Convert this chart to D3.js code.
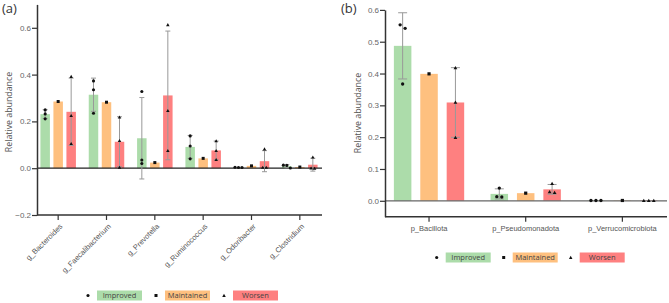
<!DOCTYPE html>
<html>
<head>
<meta charset="utf-8">
<script src="https://cdn.jsdelivr.net/npm/d3@7"></script>
<style>
body { margin: 0; background: #fff; }
svg { display: block; font-family: "Open Sans", sans-serif; }
</style>
</head>
<body>
<svg id="chart" width="669" height="303"></svg>
<script>
// groups shared by both panels
var groups = ["Improved", "Maintained", "Worsen"];
var groupColors = ["#acdcaa", "#fec07f", "#fe8080"];
var groupShapes = ["circle", "square", "triangle"];

// panel (a) genus level
var genusCats = ["g_Bacteroides", "g_Faecalibacterium", "g_Prevotella", "g_Ruminococcus", "g_Odoribacter", "g_Clostridium"];
var genusMean = [
  [0.231, 0.314, 0.128, 0.091, 0.0033, 0.0087],
  [0.285, 0.282, 0.024, 0.042, 0.010, 0.005],
  [0.241, 0.113, 0.311, 0.076, 0.030, 0.015]
];
var genusSD = [
  [0.019, 0.071, 0.174, 0.049, 0.0006, 0.0067],
  [0, 0, 0, 0, 0, 0],
  [0.144, 0.107, 0.275, 0.040, 0.045, 0.0275]
];
var genusPoints = [
  [[0.249, 0.232, 0.211], [0.373, 0.335, 0.235], [0.328, 0.035, 0.020], [0.138, 0.095, 0.040], [0.004, 0.003, 0.003], [0.013, 0.001, 0.012]],
  [[0.285], [0.282], [0.024], [0.042], [0.010], [0.005]],
  [[0.392, 0.225, 0.105], [0.218, 0.118, 0.004], [0.613, 0.246, 0.075], [0.117, 0.075, 0.037], [0.082, 0.004, 0.004], [0.047, -0.001, 0.000]]
];
var genusTicks = [-0.2, 0, 0.2, 0.4, 0.6];

// panel (b) phylum level
var phylumCats = ["p_Bacillota", "p_Pseudomonadota", "p_Verrucomicrobiota"];
var phylumMean = [
  [0.487, 0.0217, 0.001],
  [0.399, 0.024, 0.001],
  [0.309, 0.036, 0.001]
];
var phylumSD = [
  [0.104, 0.0159, 0],
  [0, 0, 0],
  [0.1095, 0.0153, 0]
];
var phylumPoints = [
  [[0.553, 0.542, 0.367], [0.040, 0.012, 0.013], [0.001, 0.001, 0.001]],
  [[0.399], [0.024], [0.001]],
  [[0.418, 0.310, 0.199], [0.054, 0.026, 0.028], [0.001, 0.001, 0.001]]
];
var phylumTicks = [0, 0.1, 0.2, 0.3, 0.4, 0.5, 0.6];

var svg = d3.select('#chart');

function marker(g, shape, cx, cy, s){
  if (shape === 'circle') {
    g.append('circle').attr('cx', cx).attr('cy', cy).attr('r', s * 0.52).attr('fill', '#111');
  } else if (shape === 'square') {
    g.append('rect').attr('x', cx - s / 2).attr('y', cy - s / 2).attr('width', s).attr('height', s).attr('fill', '#111');
  } else {
    g.append('path').attr('transform', 'translate(' + cx + ',' + (cy + 0.4) + ')')
      .attr('d', d3.symbol().type(d3.symbolTriangle).size(s * s * 0.6)()).attr('fill', '#111');
  }
}

function drawPanel(o){
  var g = svg.append('g');
  var x0 = d3.scaleBand().domain(o.cats).range(o.xr);
  var x1 = d3.scaleBand().domain(groups).range([-o.gw / 2, o.gw / 2]).paddingInner(o.pad);
  var y = d3.scaleLinear().domain(o.yd).range(o.yr);
  var cx = function(ci, gi){ return x0(o.cats[ci]) + x0.bandwidth() / 2 + x1(groups[gi]) + x1.bandwidth() / 2; };

  // bars
  o.means.forEach(function(arr, gi){
    arr.forEach(function(m, ci){
      g.append('rect')
        .attr('x', cx(ci, gi) - x1.bandwidth() / 2)
        .attr('y', Math.min(y(m), y(0)))
        .attr('width', x1.bandwidth())
        .attr('height', Math.abs(y(0) - y(m)))
        .attr('fill', groupColors[gi]);
    });
  });

  // zero line
  g.append('line').attr('x1', o.axisX).attr('x2', o.axisEnd).attr('y1', y(0)).attr('y2', y(0))
    .attr('stroke', o.zeroColor).attr('stroke-width', 1.2);

  // error bars (mean +/- sd)
  o.sds.forEach(function(arr, gi){
    arr.forEach(function(sd, ci){
      if (!sd) return;
      var m = o.means[gi][ci], x = cx(ci, gi);
      g.append('line').attr('x1', x).attr('x2', x).attr('y1', y(m - sd)).attr('y2', y(m + sd))
        .attr('stroke', '#999').attr('stroke-width', 1);
      [m - sd, m + sd].forEach(function(v){
        g.append('line').attr('x1', x - o.cap / 2).attr('x2', x + o.cap / 2).attr('y1', y(v)).attr('y2', y(v))
          .attr('stroke', '#999').attr('stroke-width', 1);
      });
    });
  });

  // individual points, dodged sideways when they overlap
  o.points.forEach(function(arr, gi){
    arr.forEach(function(pts, ci){
      var ys = pts.map(function(v){ return y(v); }).sort(function(a, b){ return a - b; });
      var clusters = [];
      ys.forEach(function(py){
        var last = clusters[clusters.length - 1];
        if (last && py - last[last.length - 1] < 3.5) last.push(py); else clusters.push([py]);
      });
      clusters.forEach(function(cl){
        cl.forEach(function(py, k){
          marker(g, groupShapes[gi], cx(ci, gi) + (k - (cl.length - 1) / 2) * o.spread, py, o.ms);
        });
      });
    });
  });

  // y axis
  var ya = g.append('g').attr('transform', 'translate(' + o.axisX + ',0)')
    .call(d3.axisLeft(y).tickValues(o.ticks).tickFormat(d3.format('.1f')).tickSize(5).tickSizeOuter(0));
  ya.select('.domain').attr('stroke', '#333').attr('stroke-width', 1.5);
  ya.selectAll('.tick line').attr('stroke', '#333').attr('stroke-width', 1.2);
  ya.selectAll('.tick text').attr('fill', '#666').attr('font-size', 8).attr('x', -6);

  // x axis
  var xa = g.append('g').attr('transform', 'translate(0,' + o.yr[0] + ')')
    .call(d3.axisBottom(x0).tickSize(5).tickSizeOuter(0));
  xa.select('.domain').remove();
  xa.append('line').attr('x1', o.axisX).attr('x2', o.axisEnd).attr('stroke', '#333').attr('stroke-width', 1.5);
  xa.selectAll('.tick line').attr('stroke', '#333').attr('stroke-width', 1.2);
  var xt = xa.selectAll('.tick text').attr('fill', '#555').attr('font-size', 7.5);
  if (o.rotate) {
    xt.attr('text-anchor', 'end').attr('y', 0).attr('dy', '0.35em')
      .attr('transform', 'translate(3,10) rotate(-45)');
  } else {
    xt.attr('y', 9);
  }

  // y title
  g.append('text').attr('transform', 'translate(' + o.titleX + ',' + o.titleY + ') rotate(-90)')
    .attr('text-anchor', 'middle').attr('font-size', 8.8).attr('fill', '#555').text('Relative abundance');

  // panel letter
  g.append('text').attr('x', o.letterX).attr('y', 13).attr('font-size', 13).attr('fill', '#333').text(o.letter);

  // legend
  groups.forEach(function(name, gi){
    var sx = o.legX + gi * o.legStep;
    marker(g, groupShapes[gi], sx, o.legY, 3);
    g.append('rect').attr('x', sx + 9).attr('y', o.legY - 5).attr('width', 45).attr('height', 10)
      .attr('fill', groupColors[gi]);
    g.append('text').attr('x', sx + 9 + 22.5).attr('y', o.legY + 2.7).attr('text-anchor', 'middle')
      .attr('font-size', 7.5).attr('fill', '#444').text(name);
  });
}

drawPanel({
  cats: genusCats, means: genusMean, sds: genusSD, points: genusPoints, ticks: genusTicks,
  xr: [34, 324], gw: 35.5, pad: 0.27, yd: [-0.2, 0.7], yr: [215, 4.4],
  axisX: 37, axisEnd: 322, zeroColor: '#222', cap: 5, spread: 3.5, ms: 3,
  rotate: true, titleX: 12, titleY: 112, letter: '(a)', letterX: 2,
  legX: 88, legStep: 68, legY: 295.5
});

drawPanel({
  cats: phylumCats, means: phylumMean, sds: phylumSD, points: phylumPoints, ticks: phylumTicks,
  xr: [380.7, 670.7], gw: 70.3, pad: 0.337, yd: [-0.05, 0.6], yr: [216.7, 9.9],
  axisX: 385, axisEnd: 667, zeroColor: '#666', cap: 9, spread: 5, ms: 3.2,
  rotate: false, titleX: 361, titleY: 113, letter: '(b)', letterX: 341,
  legX: 436.7, legStep: 67, legY: 257.5
});
</script>
</body>
</html>
